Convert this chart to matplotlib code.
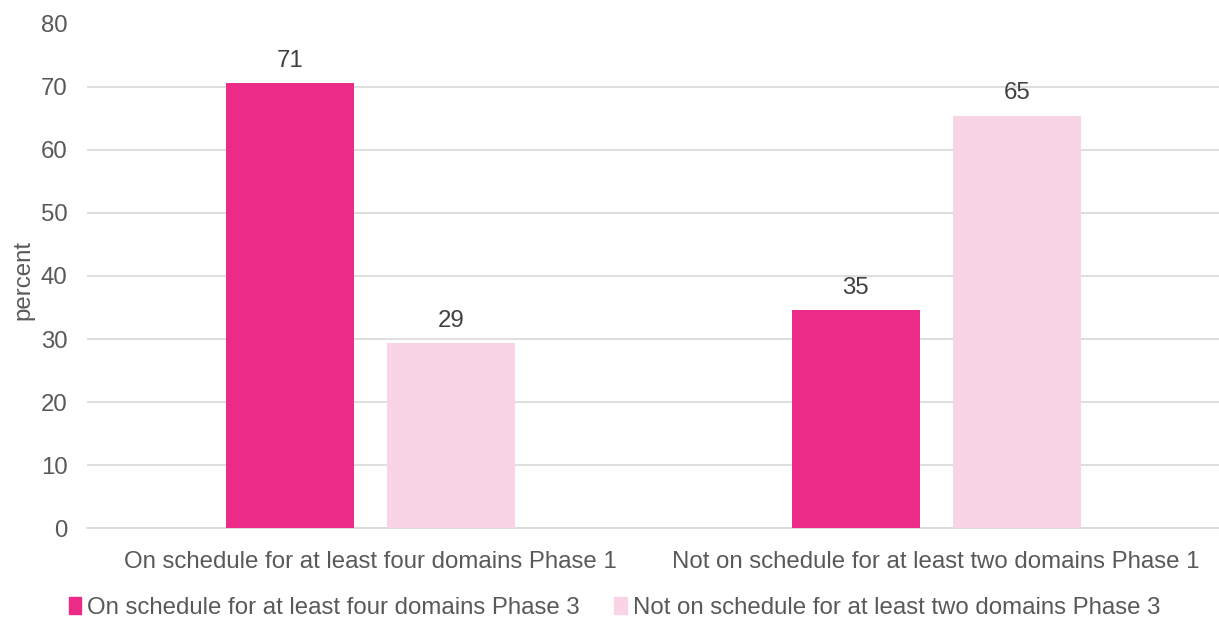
import matplotlib
matplotlib.use("Agg")
import matplotlib.pyplot as plt
import numpy as np

categories = ["On schedule for at least four domains Phase 1",
              "Not on schedule for at least two domains Phase 1"]
series_names = ["On schedule for at least four domains Phase 3",
                "Not on schedule for at least two domains Phase 3"]
on_schedule = [70.6, 34.6]
not_on_schedule = [29.4, 65.4]
data_labels = [["71", "35"], ["29", "65"]]
colors = ["#EC2A87", "#F9D3E6"]

plt.rcParams['font.family'] = ['Liberation Sans', 'DejaVu Sans']
FS = 17.3

fig = plt.figure(figsize=(12.19, 6.19), dpi=100)
ax = fig.add_axes([87/1219, 90.7/619, 1132/1219, 504.8/619])

x = np.arange(len(categories))
w = 0.226
offs = [-0.1415, 0.143]
for vals, off, col, labs in zip([on_schedule, not_on_schedule], offs, colors, data_labels):
    bars = ax.bar(x + off, vals, width=w, color=col, zorder=3)
    for b, lab in zip(bars, labs):
        ax.annotate(lab, (b.get_x() + b.get_width()/2, b.get_height()),
                    xytext=(0, 16), textcoords='offset points',
                    ha='center', va='center', fontsize=FS, color='#404040')

ax.set_xlim(-0.5, 1.5)
ax.set_ylim(0, 80)
ax.set_yticks(range(0, 81, 10))
ax.set_xticks(x)
ax.set_xticklabels(categories)
ax.grid(axis='y', color='#D9D9D9', linewidth=1.2, zorder=0)
for s in ['top', 'right', 'left']:
    ax.spines[s].set_visible(False)
ax.spines['bottom'].set_color('#D9D9D9')
ax.spines['bottom'].set_linewidth(1.2)
ax.tick_params(axis='both', length=0, labelsize=FS, labelcolor='#595959')
ax.tick_params(axis='y', pad=14)
ax.tick_params(axis='x', pad=16)
fig.text(23/1219, 1 - 280/619, "percent", rotation=90, ha='center', va='center',
         fontsize=FS, color='#595959')

# legend
handles = [plt.Rectangle((0, 0), 1, 1, color=c) for c in colors]
leg = fig.legend(handles, series_names, loc='center left',
                 bbox_to_anchor=(69/1219, 1 - 608/619), ncol=2, frameon=False,
                 borderpad=0, borderaxespad=0,
                 fontsize=FS, handlelength=0.5, handleheight=0.7, handletextpad=0.25,
                 columnspacing=1.45, labelcolor='#595959')

fig.savefig("out.png", dpi=100)
